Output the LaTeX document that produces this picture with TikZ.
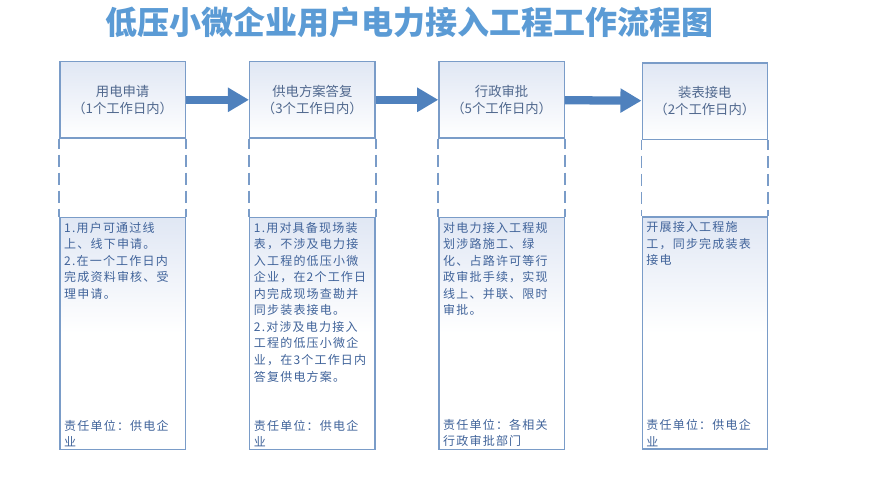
\documentclass[tikz,border=0pt]{standalone}
\usepackage{fontspec}
\usetikzlibrary{arrows.meta}

\newfontfamily\cjkfont{Noto Sans CJK SC}
\newfontfamily\cjkspaced{Noto Sans CJK SC}[LetterSpace=10]

\definecolor{titleblue}{RGB}{91,155,213}
\definecolor{arrowblue}{RGB}{79,129,189}
\definecolor{frameblue}{RGB}{122,156,200}
\definecolor{tintblue}{RGB}{224,231,244}
\definecolor{headtext}{RGB}{80,104,142}
\definecolor{notetext}{RGB}{64,99,154}

\tikzset{
  headbox/.style={draw=frameblue, line width=1pt, top color=tintblue, bottom color=white,
    minimum width=94pt, minimum height=57.2pt, inner sep=0pt, anchor=north west, align=center,
    text=headtext, font=\cjkfont\fontsize{10}{12.75}\selectfont},
  notebox/.style={draw=frameblue, line width=1pt, top color=tintblue, bottom color=white, middle color=white,
    minimum width=94pt, minimum height=174pt, inner sep=0pt, anchor=north west},
  notetext/.style={inner sep=0pt, align=left, text=notetext, font=\cjkspaced\fontsize{9}{12.4}\selectfont},
  lane/.style={draw=frameblue, line width=1.3pt, dash pattern=on 9pt off 4.5pt, dash phase=1.5pt},
  flow/.style={draw=arrowblue, line width=6.2pt, -{Triangle[length=15.8pt,width=17.3pt]}}
}

\begin{document}
\begin{tikzpicture}[x=0.75pt,y=0.75pt,yscale=-1,xscale=1]
\useasboundingbox (0,0) rectangle (885,479);

% Title
\node[text=titleblue, font=\cjkfont\bfseries\fontsize{24}{28}\selectfont] (title) at (409,22) {低压小微企业用户电力接入工程工作流程图};

%Flowchart: Process, step headers
\node[headbox] (apply) at (59.3,61) {用电申请\\（1个工作日内）};
\node[headbox] (plan) at (249,61) {供电方案答复\\（3个工作日内）};
\node[headbox] (approve) at (438.3,61) {行政审批\\（5个工作日内）};
\node[headbox] (connect) at (641.5,62.3) {装表接电\\（2个工作日内）};

%Flowchart: Process, step notes
\node[notebox] (applynote) at (59.3,216.5) {};
\node[notebox] (plannote) at (249,216.5) {};
\node[notebox] (approvenote) at (438.3,216.5) {};
\node[notebox] (connectnote) at (641.5,216.2) {};

% Dashed lane sides
\draw[lane] (apply.south west) -- (applynote.north west);
\draw[lane] (apply.south east) -- (applynote.north east);
\draw[lane] (plan.south west) -- (plannote.north west);
\draw[lane] (plan.south east) -- (plannote.north east);
\draw[lane] (approve.south west) -- (approvenote.north west);
\draw[lane] (approve.south east) -- (approvenote.north east);
\draw[lane] (connect.south west) -- (connectnote.north west);
\draw[lane] (connect.south east) -- (connectnote.north east);

% Block arrows
\draw[flow] (apply) -- (plan);
\draw[flow] (plan) -- (approve);
\draw[flow] (approve) -- (connect);

% Text Node
\node[notetext, anchor=north west] (applysteps) at ([xshift=3.5pt,yshift=4pt]applynote.north west) {1.用户可通过线\\上、线下申请。\\2.在一个工作日内\\完成资料审核、受\\理申请。};
% Text Node
\node[notetext, anchor=north west] (plansteps) at ([xshift=3.5pt,yshift=4pt]plannote.north west) {1.用对具备现场装\\表，不涉及电力接\\入工程的低压小微\\企业，在2个工作日\\内完成现场查勘并\\同步装表接电。\\2.对涉及电力接入\\工程的低压小微企\\业，在3个工作日内\\答复供电方案。};
% Text Node
\node[notetext, anchor=north west] (approvesteps) at ([xshift=3.5pt,yshift=4pt]approvenote.north west) {对电力接入工程规\\划涉路施工、绿\\化、占路许可等行\\政审批手续，实现\\线上、并联、限时\\审批。};
% Text Node
\node[notetext, anchor=north west] (connectsteps) at ([xshift=3.5pt,yshift=4pt]connectnote.north west) {开展接入工程施\\工，同步完成装表\\接电};

% Text Node
\node[notetext, anchor=south west] (applyduty) at ([xshift=3.5pt,yshift=-2pt]applynote.south west) {责任单位：供电企\\业};
% Text Node
\node[notetext, anchor=south west] (planduty) at ([xshift=3.5pt,yshift=-2pt]plannote.south west) {责任单位：供电企\\业};
% Text Node
\node[notetext, anchor=south west] (approveduty) at ([xshift=3.5pt,yshift=-2pt]approvenote.south west) {责任单位：各相关\\行政审批部门};
% Text Node
\node[notetext, anchor=south west] (connectduty) at ([xshift=3.5pt,yshift=-2pt]connectnote.south west) {责任单位：供电企\\业};

\end{tikzpicture}
\end{document}
